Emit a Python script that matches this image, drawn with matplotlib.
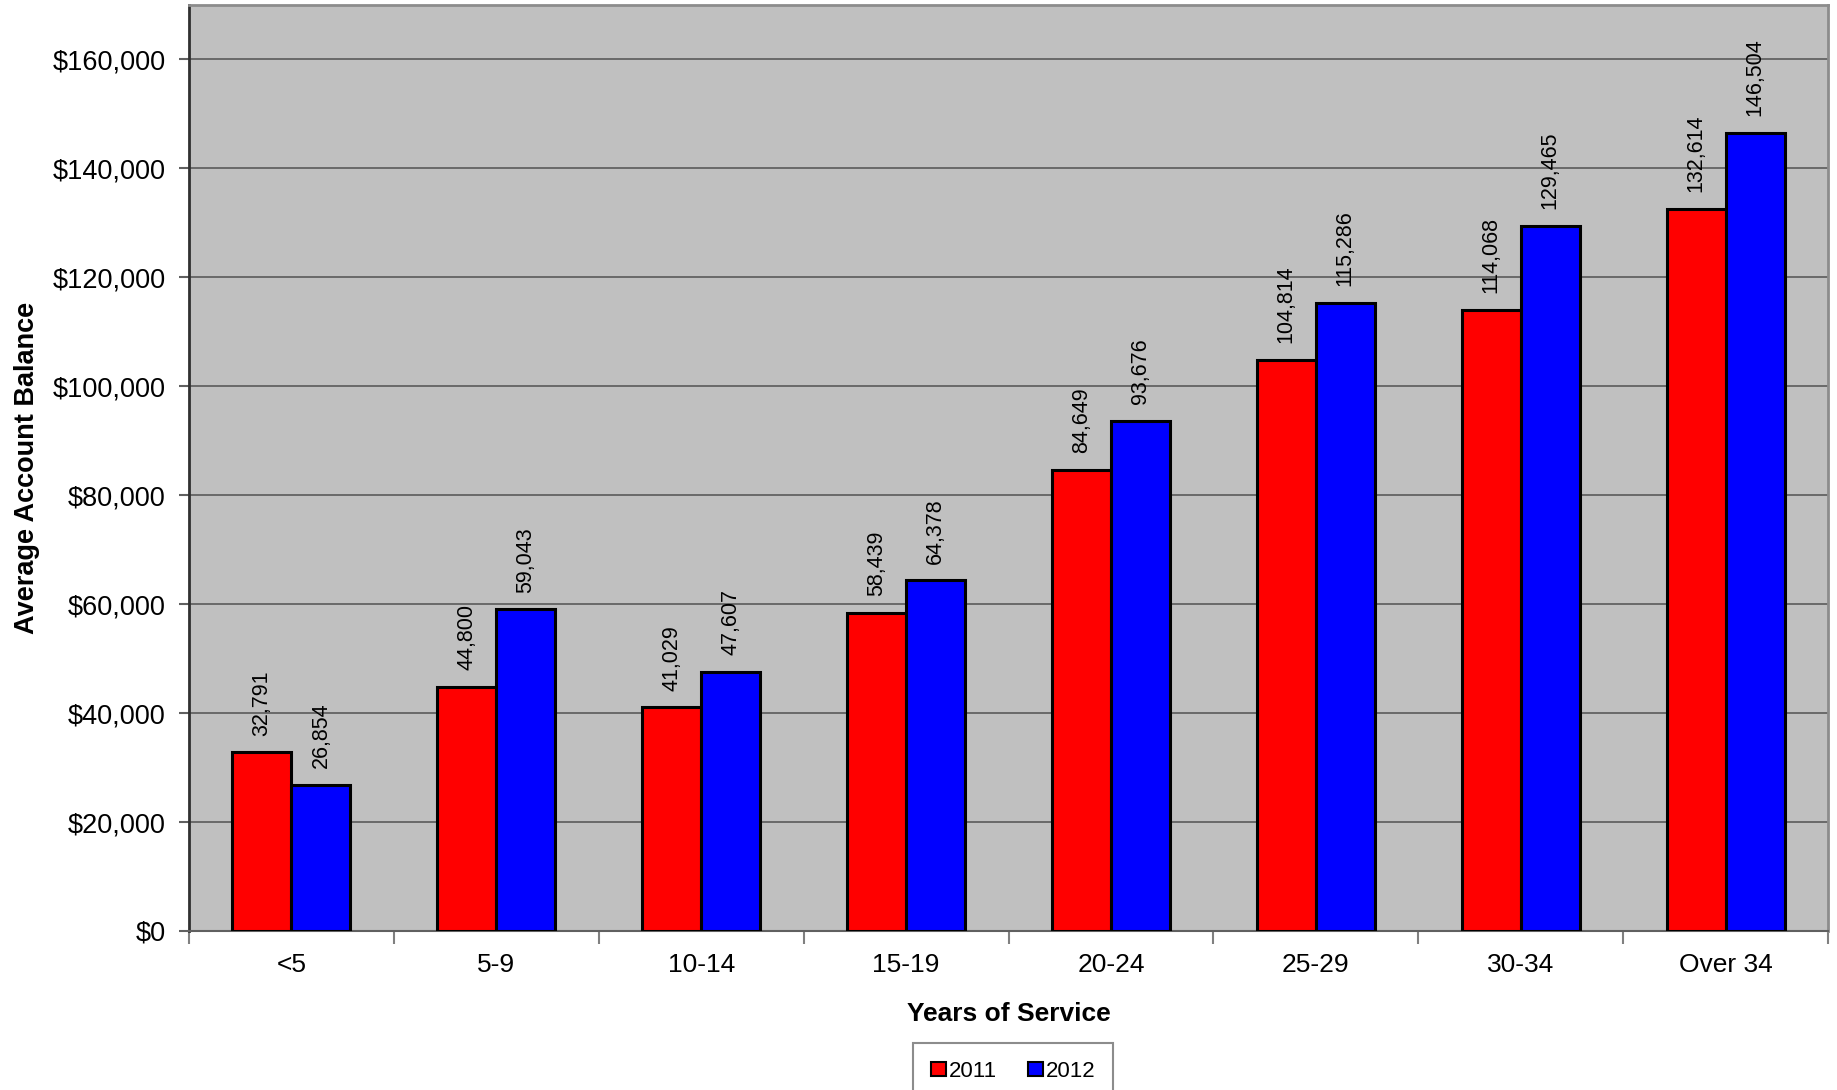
import matplotlib
matplotlib.use("Agg")
import matplotlib.pyplot as plt
import numpy as np
from matplotlib.ticker import FuncFormatter, MultipleLocator

plt.rcParams['font.family'] = ['Liberation Sans', 'DejaVu Sans']

categories = ["<5", "5-9", "10-14", "15-19", "20-24", "25-29", "30-34", "Over 34"]
balance_2011 = [32791, 44800, 41029, 58439, 84649, 104814, 114068, 132614]
balance_2012 = [26854, 59043, 47607, 64378, 93676, 115286, 129465, 146504]
series_names = ["2011", "2012"]

fig = plt.figure(figsize=(18.37, 10.9), dpi=100)
ax = fig.add_axes([0.1029, 0.1459, 0.8922, 0.8495])
ax.set_facecolor("#c0c0c0")

x = np.arange(len(categories))
w = 0.288
bars1 = ax.bar(x - w / 2, balance_2011, w, color="#ff0000", edgecolor="black",
               linewidth=2.2, label=series_names[0], zorder=3)
bars2 = ax.bar(x + w / 2, balance_2012, w, color="#0000ff", edgecolor="black",
               linewidth=2.2, label=series_names[1], zorder=3)

for bars, vals in ((bars1, balance_2011), (bars2, balance_2012)):
    for b, v in zip(bars, vals):
        ax.annotate(f"{v:,}", (b.get_x() + b.get_width() / 2, v),
                    xytext=(0, 12), textcoords="offset points",
                    rotation=90, ha="center", va="bottom", fontsize=15.5,
                    zorder=4)

ax.set_xlim(-0.5, len(categories) - 0.5)
ax.set_ylim(0, 170000)
ax.yaxis.set_major_locator(MultipleLocator(20000))
ax.yaxis.set_major_formatter(FuncFormatter(lambda v, p: f"${v:,.0f}"))
ax.grid(axis="y", color="#5a5a5a", linewidth=1.2, zorder=1)
ax.set_axisbelow(True)

ax.set_xticks(x)
ax.set_xticklabels(categories, fontsize=19)
ax.set_xticks(np.arange(-0.5, len(categories)), minor=True)
ax.tick_params(axis="x", which="major", length=0, pad=16)
ax.tick_params(axis="x", which="minor", length=9, color="#808080", width=1.5)
ax.tick_params(axis="y", labelsize=19.5, length=7, color="#606060", width=1.5, pad=10)

for side in ("top", "right"):
    ax.spines[side].set_color("#8c8c8c")
    ax.spines[side].set_linewidth(2)
ax.spines["left"].set_color("#303030")
ax.spines["left"].set_linewidth(2)
ax.spines["bottom"].set_color("#606060")
ax.spines["bottom"].set_linewidth(1.5)

ax.set_xlabel("Years of Service", fontsize=19, fontweight="bold", labelpad=18)
ax.set_ylabel("Average Account Balance", fontsize=19.5, fontweight="bold", labelpad=9)

leg = fig.legend(loc="upper center", bbox_to_anchor=(0.5517, 0.0431), ncol=2,
                 fontsize=16, frameon=True, fancybox=False, edgecolor="#707070",
                 handlelength=0.65, handleheight=0.65, handletextpad=0.15,
                 columnspacing=1.4, borderpad=0.8, borderaxespad=0)
leg.get_frame().set_linewidth(1.5)
for h in leg.legend_handles:
    h.set_linewidth(1.5)

fig.savefig("out.png", dpi=100, facecolor="white")
